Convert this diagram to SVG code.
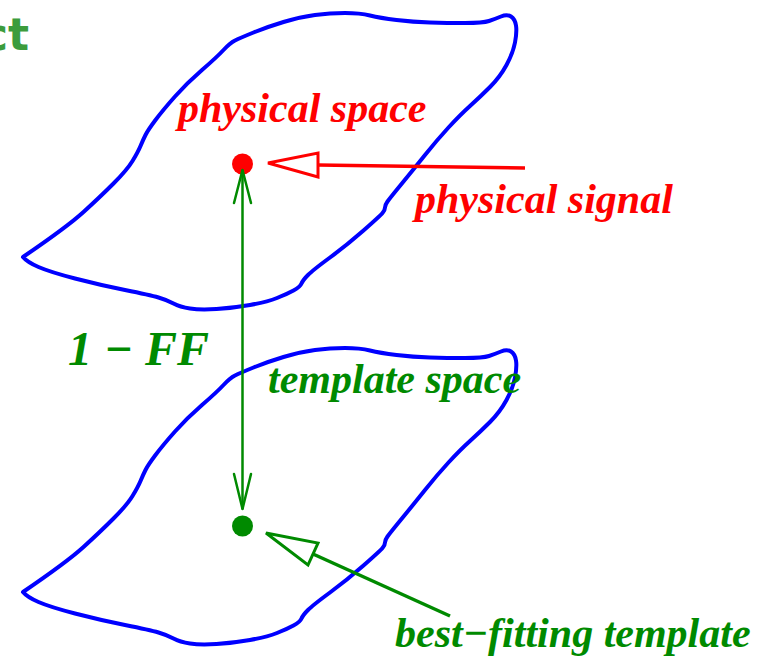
<svg xmlns="http://www.w3.org/2000/svg" width="757" height="657" viewBox="0 0 757 657">
<style>
.blob{fill:none;stroke:#0000ff;stroke-width:4;stroke-linejoin:round}
.lbl{font-family:"Liberation Serif","Times New Roman",serif;font-weight:bold;font-style:italic}
.red{fill:#ff0000}
.grn{fill:#008a00}
.gline{fill:none;stroke:#008a00;stroke-width:2.5;stroke-linecap:round;stroke-linejoin:miter}
</style>
<defs>
<path id="blobshape" d="M23,257 Q67,227 83.5,212 Q100,197 113.5,183.5 Q127,170 132.5,161 Q138,152 140.5,146 Q143,140 145.5,135 Q148,130 155.5,120 Q163,110 175,96.5 Q187,83 202,70 Q217,57 223.5,50 Q230,43 235,40.5 Q240,38 253.5,32.5 Q267,27 283.5,22 Q300,17 315,15 Q330,13 345,13 Q360,13 370,15.5 Q380,18 396.5,20 Q413,22 430,22.5 Q447,23 465,23 Q483,23 489,21 Q495,19 501,16.5 Q507,14 511,16.5 Q515,19 516,25.5 Q517,32 515,42.5 Q513,53 506.5,65 Q500,77 490,87 Q480,97 470,106 Q460,115 448.5,127.5 Q437,140 425,155 Q413,170 401.5,184 Q390,198 387.5,201.5 Q385,205 385,207.5 Q385,210 382.5,213 Q380,216 363.5,230.5 Q347,245 330,257.5 Q313,270 308,275 Q303,280 301.5,283.5 Q300,287 293.5,290.5 Q287,294 277,298 Q267,302 250,305 Q233,308 216.5,309 Q200,310 190,308.5 Q180,307 173.5,303.5 Q167,300 158.5,297.5 Q150,295 125,290 Q100,285 75,278.5 Q50,272 38.5,267 Q27,262 23,257 Z"/>
</defs>
<rect width="757" height="657" fill="#ffffff"/>
<text x="29" y="50" text-anchor="end" font-family="DejaVu Sans, sans-serif" font-weight="bold" font-size="44" fill="#3c9c3c">ct</text>
<g id="physical-space">
<use href="#blobshape" class="blob"/>
<text class="lbl red" x="178" y="122" font-size="42">physical space</text>
</g>
<g id="template-space">
<use href="#blobshape" class="blob" transform="translate(0,335)"/>
</g>
<g id="physical-signal-point">
<circle cx="242.5" cy="164" r="10.5" fill="#ff0000"/>
</g>
<g id="best-fitting-point">
<circle cx="242.5" cy="526" r="10.5" fill="#008a00"/>
</g>
<g id="connectors">
<line x1="242.5" y1="170" x2="242.5" y2="509" class="gline"/>
<polyline points="234,203 242.5,170 251,203" class="gline"/>
<polyline points="234,474 242.5,509 251,474" class="gline"/>
<line x1="525" y1="168" x2="318" y2="165" stroke="#ff0000" stroke-width="3.5"/>
<polygon points="268,163 318,153 318,177" fill="#ffffff" stroke="#ff0000" stroke-width="3"/>
<line x1="450" y1="616" x2="313" y2="554" stroke="#008a00" stroke-width="3.5"/>
<polygon points="266,533 318,543 308,565" fill="#ffffff" stroke="#008a00" stroke-width="3"/>
</g>
<g id="labels">
<text class="lbl red" x="415" y="213" font-size="42">physical signal</text>
<text class="lbl grn" x="68" y="365" font-size="48">1 − FF</text>
<text class="lbl grn" x="268" y="393" font-size="42">template space</text>
<text class="lbl grn" x="395" y="647" font-size="42">best−fitting template</text>
</g>
</svg>
